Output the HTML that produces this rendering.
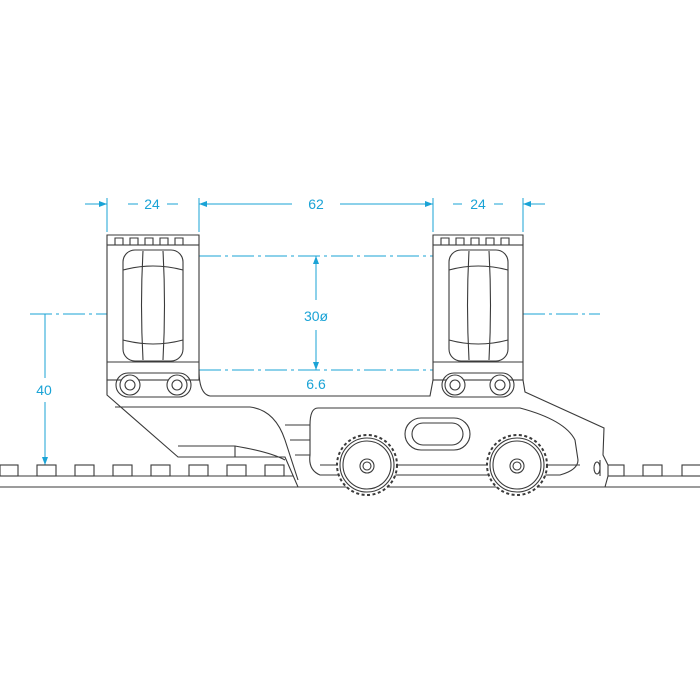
<!DOCTYPE html>
<html><head><style>html,body{margin:0;padding:0;background:#fff}svg{display:block}</style></head><body>
<svg width="700" height="700" viewBox="0 0 700 700" xmlns="http://www.w3.org/2000/svg">
<defs>
<marker id="a" markerWidth="8" markerHeight="6" refX="8" refY="3" orient="auto" markerUnits="userSpaceOnUse"><path d="M0,0 L8,3 L0,6z" fill="#1aa3d6"/></marker>
</defs>
<g stroke="#1aa3d6" stroke-width="1" fill="none">
<line x1="107" y1="198" x2="107" y2="232"/><line x1="199" y1="198" x2="199" y2="232"/>
<line x1="433" y1="198" x2="433" y2="232"/><line x1="523" y1="198" x2="523" y2="232"/>
<line x1="85" y1="204" x2="107" y2="204" marker-end="url(#a)"/>
<line x1="128" y1="204" x2="138" y2="204"/><line x1="167" y1="204" x2="178" y2="204"/>
<line x1="220" y1="204" x2="199" y2="204" marker-end="url(#a)"/>
<line x1="220" y1="204" x2="292" y2="204"/><line x1="340" y1="204" x2="412" y2="204"/>
<line x1="412" y1="204" x2="433" y2="204" marker-end="url(#a)"/>
<line x1="453" y1="204" x2="462" y2="204"/><line x1="494" y1="204" x2="503" y2="204"/>
<line x1="545" y1="204" x2="523" y2="204" marker-end="url(#a)"/>
<g stroke-dasharray="22,4,3,4">
<line x1="199" y1="256" x2="433" y2="256"/><line x1="199" y1="370" x2="433" y2="370"/>
<line x1="30" y1="314" x2="107" y2="314"/><line x1="523" y1="314" x2="600" y2="314"/>
</g>
<line x1="316" y1="300" x2="316" y2="256" marker-end="url(#a)"/>
<line x1="316" y1="330" x2="316" y2="370" marker-end="url(#a)"/>
<line x1="316" y1="410" x2="316" y2="397" marker-end="url(#a)"/>
<line x1="45" y1="314" x2="45" y2="378"/>
<line x1="45" y1="402" x2="45" y2="465" marker-end="url(#a)"/>
</g>
<g fill="#1aa3d6" font-family="Liberation Sans, sans-serif" font-size="14" text-anchor="middle">
<text x="152" y="209">24</text><text x="316" y="209">62</text><text x="478" y="209">24</text>
<text x="316" y="321">30ø</text><text x="316" y="389">6.6</text><text x="44" y="395">40</text>
</g>
<g stroke="#3a3a3a" stroke-width="1.1" fill="none">
<line x1="0" y1="476" x2="700" y2="476"/><line x1="0" y1="487" x2="700" y2="487"/>
<g fill="#fff">
<rect x="0" y="465" width="18" height="11"/><rect x="37" y="465" width="19" height="11"/><rect x="75" y="465" width="19" height="11"/><rect x="113" y="465" width="19" height="11"/><rect x="151" y="465" width="19" height="11"/><rect x="189" y="465" width="19" height="11"/><rect x="227" y="465" width="19" height="11"/><rect x="265" y="465" width="19" height="11"/>
<rect x="607" y="465" width="17" height="11"/><rect x="643" y="465" width="19" height="11"/><rect x="682" y="465" width="19" height="11"/>
</g>
<path d="M107,395 L178,457 L285,457 L298,487 L605,487 L608,476 L608,465 L603,455 L604,428 L525,392 L523,380 L433,380 L430,396 L210,396 Q199,394 199,370 L199,380 L107,380 Z" fill="#fff"/>
<path d="M115,407 L250,407 Q275,410 285,440 L298,480"/>
<path d="M178,446 L235,446 Q270,452 285,460"/><line x1="235" y1="446" x2="235" y2="457"/>
<path d="M318,408 L520,408 Q565,420 575,440 L578,460 Q578,470 560,475 L320,475 Q308,470 310,455 L310,425 Q310,408 318,408Z" fill="#fff"/>
<path d="M285,425 L310,425 M290,440 L310,440 M295,455 L310,455 M320,465 L580,465"/>
<rect x="405" y="418" width="65" height="32" rx="16" fill="#fff"/>
<rect x="412" y="423" width="51" height="22" rx="11"/>
<line x1="600" y1="460" x2="600" y2="476"/><ellipse cx="597" cy="468" rx="3" ry="6"/>
<g fill="#fff">
<rect x="107" y="245" width="92" height="135"/><rect x="433" y="245" width="90" height="135"/>
</g>
<path d="M107,245 L107,235 L199,235 L199,245 M433,245 L433,235 L523,235 L523,245"/>
<path d="M115,245 v-7 h8 v7 M130,245 v-7 h8 v7 M145,245 v-7 h8 v7 M160,245 v-7 h8 v7 M175,245 v-7 h8 v7"/>
<path d="M441,245 v-7 h8 v7 M456,245 v-7 h8 v7 M471,245 v-7 h8 v7 M486,245 v-7 h8 v7 M501,245 v-7 h8 v7"/>
<rect x="123" y="250" width="60" height="111" rx="12"/><rect x="449" y="250" width="59" height="111" rx="12"/>
<path d="M143,251 Q140,305 143,360 M163,251 Q166,305 163,360 M469,251 Q466,305 469,360 M489,251 Q492,305 489,360"/>
<path d="M123,270 Q153,262 183,270 M123,340 Q153,348 183,340 M449,270 Q478,262 508,270 M449,340 Q478,348 508,340"/>
<line x1="107" y1="362" x2="199" y2="362"/><line x1="433" y1="362" x2="523" y2="362"/>
<rect x="116" y="373" width="75" height="24" rx="12"/><rect x="442" y="373" width="72" height="24" rx="12"/>
<g fill="#fff">
<circle cx="130" cy="385" r="10"/><circle cx="177" cy="385" r="10"/><circle cx="455" cy="385" r="10"/><circle cx="500" cy="385" r="10"/>
</g>
<circle cx="130" cy="385" r="5"/><circle cx="177" cy="385" r="5"/><circle cx="455" cy="385" r="5"/><circle cx="500" cy="385" r="5"/>
<g fill="#fff">
<circle cx="367" cy="465" r="30" stroke-dasharray="3,2.5" stroke-width="2"/>
<circle cx="517" cy="465" r="30" stroke-dasharray="3,2.5" stroke-width="2"/>
</g>
<circle cx="367" cy="465" r="27"/><circle cx="517" cy="465" r="27"/>
<circle cx="367" cy="465" r="24"/><circle cx="517" cy="465" r="24"/>
<circle cx="367" cy="466" r="7"/><circle cx="367" cy="466" r="4"/>
<circle cx="517" cy="466" r="7"/><circle cx="517" cy="466" r="4"/>
</g>
</svg>
</body></html>
